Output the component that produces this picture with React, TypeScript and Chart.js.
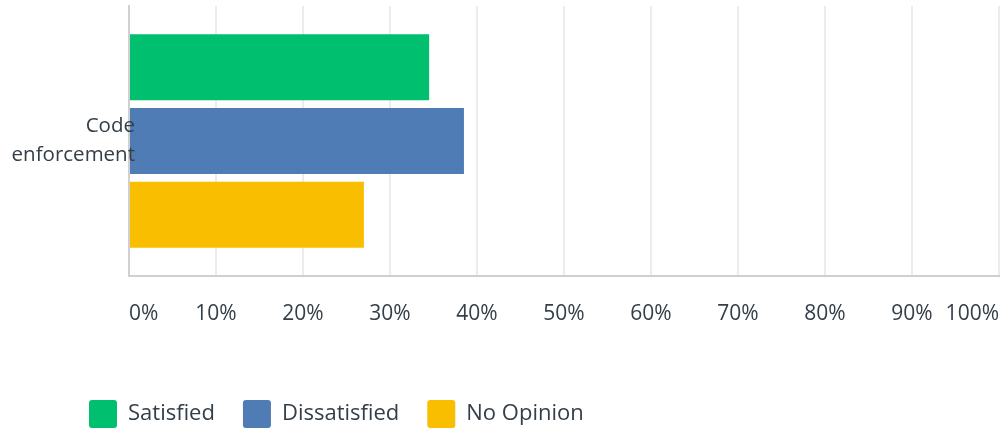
import React, { useEffect, useRef } from 'react';
import { Chart, registerables } from 'chart.js';

Chart.register(...registerables);

const categories = [['Code', 'enforcement']];
const seriesNames = ['Satisfied', 'Dissatisfied', 'No Opinion'];
const satisfied = [34.5];
const dissatisfied = [38.5];
const noOpinion = [27.0];
const seriesColors = ['#00bf6f', '#507cb6', '#f9be00'];
const axisMin = 0;
const axisMax = 100;
const axisStep = 10;

const FONT = '"Open Sans", Roboto, sans-serif';
const TEXT = '#333e48';

export default function App() {
  const ref = useRef<HTMLCanvasElement | null>(null);

  useEffect(() => {
    if (!ref.current) return;
    const values = [satisfied, dissatisfied, noOpinion];
    const chart = new Chart(ref.current, {
      type: 'bar',
      data: {
        labels: categories as any,
        datasets: seriesNames.map((name, i) => ({
          label: name,
          data: values[i],
          backgroundColor: seriesColors[i],
          borderWidth: 0,
          categoryPercentage: 0.82,
          barPercentage: 0.895,
        })),
      },
      options: {
        indexAxis: 'y',
        animation: false,
        responsive: true,
        maintainAspectRatio: false,
        layout: { padding: { left: 61, top: 6, right: 4, bottom: 0 } },
        plugins: {
          tooltip: { enabled: false },
          legend: {
            position: 'bottom',
            align: 'start',
            labels: {
              boxWidth: 28,
              boxHeight: 28,
              padding: 28,
              useBorderRadius: true,
              borderRadius: 3,
              color: TEXT,
              font: { size: 22, family: FONT },
            },
          },
        },
        scales: {
          x: {
            min: axisMin,
            max: axisMax,
            ticks: {
              stepSize: axisStep,
              align: 'inner',
              padding: 25,
              color: TEXT,
              font: { size: 21, family: FONT },
              callback: (v: any) => v + '%',
            },
            grid: { color: '#ececec', lineWidth: 2, drawTicks: false },
            border: { display: true, color: '#d0d0d0', width: 2 },
            afterFit: (s: any) => {
              s.height = 96;
              s.paddingLeft = 0;
              s.paddingRight = 0;
            },
          },
          y: {
            ticks: {
              padding: -6,
              z: 1,
              color: TEXT,
              font: { size: 20.5, family: FONT, lineHeight: 1.4 },
            },
            grid: { display: false, drawTicks: false },
            border: { display: true, color: '#d0d0d0', width: 2 },
            afterFit: (s: any) => {
              s.width = 68;
              s.paddingTop = 0;
              s.paddingBottom = 0;
              s._computeLabelArea = () => undefined;
            },
          },
        },
      },
    } as any);
    return () => chart.destroy();
  }, []);

  return (
    <div style={{ position: 'absolute', left: 0, top: 0, width: 1003, height: 438 }}>
      <canvas ref={ref} />
    </div>
  );
}
